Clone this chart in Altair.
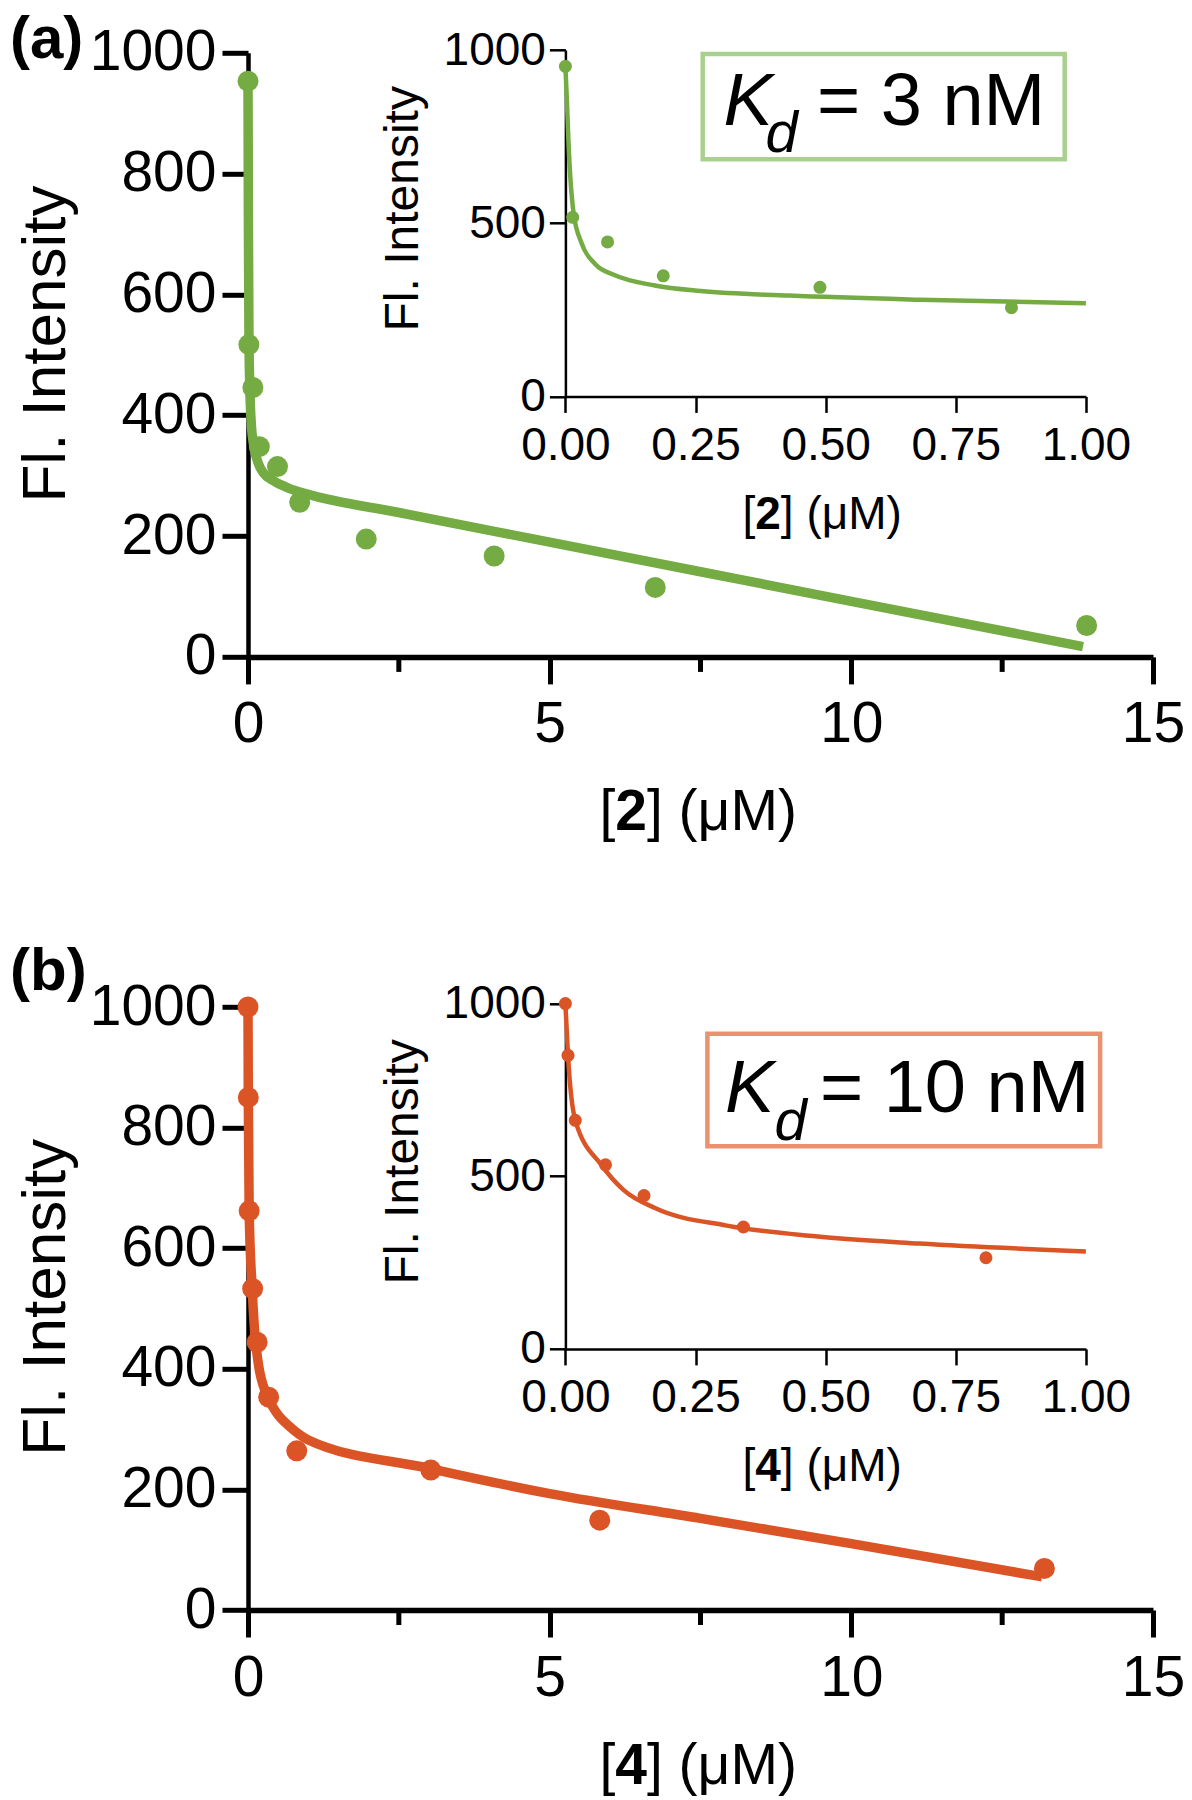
import altair as alt
import pandas as pd

# ---------------- data ----------------
# panel (a): compound 2
a_conc = [0.0, 0.014, 0.081, 0.188, 0.489, 0.857, 1.96, 4.08, 6.75, 13.9]
a_fl = [953, 517, 446, 348, 315, 256, 195, 167, 115, 52]
a_fit_conc = [0.0, 0.003, 0.006, 0.016, 0.031, 0.058, 0.093, 0.172, 0.26, 0.43, 0.68, 1.0,
              2.5, 5.0, 7.5, 10.0, 13.84]
a_fit_fl = [953, 850, 732, 526, 443, 381, 351, 320, 304, 291, 279, 269,
            239, 190, 141, 92, 17]

# panel (b): compound 4
b_conc = [0.0, 0.005, 0.019, 0.077, 0.151, 0.342, 0.808, 3.03, 5.83, 13.2]
b_fl = [1000, 850, 662, 533, 444, 353, 264, 232, 149, 69]
b_fit_conc = [0.0, 0.005, 0.019, 0.069, 0.112, 0.172, 0.31, 0.48, 0.68, 1.0,
              3.0, 5.0, 7.5, 10.0, 13.16]
b_fit_fl = [1000, 850, 662, 533, 460, 408, 357, 326, 305, 282,
            235, 193, 152, 110, 55]

main_x_ticks = [0, 5, 10, 15]
main_x_minor = [2.5, 7.5, 12.5]
main_y_ticks = [0, 200, 400, 600, 800, 1000]
inset_x_ticks = [0, 0.25, 0.5, 0.75, 1.0]
inset_y_ticks = [0, 500, 1000]

y_title = "Fl. Intensity"
panel_labels = ["(a)", "(b)"]
compounds = ["2", "4"]
kd_values = ["= 3 nM", "= 10 nM"]

# ---------------- styling ----------------
FONT = "Liberation Sans"
GREEN = "#74AB43"
GREEN_LIGHT = "#A9D08E"
ORANGE = "#DB5426"
ORANGE_LIGHT = "#EC9170"

W = 910
H = 1557.2


def df(xs, ys):
    return pd.DataFrame({"c": xs, "f": ys})


minor_df = pd.DataFrame({"c": main_x_minor})


def main_panel(pts, fit, color, xr, yr, title_y):
    xs = alt.Scale(domain=[0, 15], range=xr, nice=False, zero=False)
    ys = alt.Scale(domain=[0, 1000], range=yr, nice=False, zero=False)
    ax_x = alt.Axis(orient="bottom", offset=yr[0] - H, values=main_x_ticks, format="d",
                    tickSize=27, tickWidth=5, domainWidth=5.5, labelFontSize=57,
                    labelPadding=13, labelFlush=False, labelOverlap=False, grid=False,
                    title=None, domainColor="black", tickColor="black", labelColor="black",
                    labelFont=FONT)
    ax_y = alt.Axis(orient="left", offset=0, values=main_y_ticks, format="d",
                    tickSize=26, tickWidth=5, domainWidth=4.5, labelFontSize=57,
                    labelPadding=6, labelFlush=False, labelOverlap=False, grid=False,
                    title=y_title, titleFontSize=62, titleFontWeight="normal",
                    titleX=-184, titleY=title_y, titleAngle=270, titleAlign="center",
                    titleBaseline="alphabetic", titleColor="black", titleFont=FONT,
                    domainColor="black", tickColor="black", labelColor="black",
                    labelFont=FONT)
    X = alt.X("c:Q", scale=xs, axis=ax_x)
    Y = alt.Y("f:Q", scale=ys, axis=ax_y)
    line = alt.Chart(fit).mark_line(color=color, strokeWidth=9.5,
                                    interpolate="monotone").encode(x=X, y=Y)
    dots = alt.Chart(pts).mark_circle(color=color, size=440, opacity=1).encode(x=X, y=Y)
    minor = alt.Chart(minor_df).mark_rule(color="black", strokeWidth=5).encode(
        x=X, y=alt.value(yr[0]), y2=alt.value(yr[0] + 15))
    return alt.layer(line, dots, minor)


def inset_panel(pts, fit, color, xr, yr, title_y):
    xs = alt.Scale(domain=[0, 1], range=xr, nice=False, zero=False)
    ys = alt.Scale(domain=[0, 1000], range=yr, nice=False, zero=False)
    ax_x = alt.Axis(orient="bottom", offset=yr[0] - H, values=inset_x_ticks, format=".2f",
                    tickSize=16, tickWidth=2.5, domainWidth=2.5, labelFontSize=46,
                    labelPadding=11, labelFlush=False, labelOverlap=False, grid=False,
                    title=None, domainColor="black", tickColor="black", labelColor="black",
                    labelFont=FONT)
    ax_y = alt.Axis(orient="left", offset=-xr[0], values=inset_y_ticks, format="d",
                    tickSize=16, tickWidth=2.5, domainWidth=2.5, labelFontSize=46,
                    labelPadding=4, labelFlush=False, labelOverlap=False, grid=False,
                    title=y_title, titleFontSize=48, titleFontWeight="normal",
                    titleX=-148, titleY=title_y, titleAngle=270, titleAlign="center",
                    titleBaseline="alphabetic", titleColor="black", titleFont=FONT,
                    domainColor="black", tickColor="black", labelColor="black",
                    labelFont=FONT)
    X = alt.X("c:Q", scale=xs, axis=ax_x)
    Y = alt.Y("f:Q", scale=ys, axis=ax_y)
    line = alt.Chart(fit).transform_filter(alt.datum.c <= 1.0).mark_line(
        color=color, strokeWidth=4.5, interpolate="monotone").encode(x=X, y=Y)
    dots = alt.Chart(pts).transform_filter(alt.datum.c <= 1.0).mark_circle(
        color=color, size=170, opacity=1).encode(x=X, y=Y)
    return alt.layer(line, dots)


def text(t, x, y, size, weight="normal", style="normal"):
    return alt.Chart(pd.DataFrame({"t": [t]})).mark_text(
        font=FONT, fontSize=size, fontWeight=weight, fontStyle=style,
        align="left", baseline="alphabetic", color="black").encode(
        x=alt.value(x), y=alt.value(y), text="t:N")


def box(x1, x2, y1, y2, color):
    return alt.Chart(pd.DataFrame({"t": [""]})).mark_rect(
        fill="white", stroke=color, strokeWidth=4.5).encode(
        x=alt.value(x1), x2=alt.value(x2), y=alt.value(y1), y2=alt.value(y2))


def x_title(compound, x0, base, size):
    w_br = 0.278 * size
    w_num = 0.556 * size
    return [
        text("[", x0, base, size),
        text(compound, x0 + w_br, base, size, weight="bold"),
        text("] (\u03bcM)", x0 + w_br + w_num, base, size),
    ]


layers = []
# ---- panel (a) ----
layers.append(main_panel(df(a_conc, a_fl), df(a_fit_conc, a_fit_fl), GREEN,
                         [0, 905], [604.1, 0], 290.7))
layers.append(box(454.7, 816.7, 1.2, 106.5, GREEN_LIGHT))
layers.append(inset_panel(df(a_conc, a_fl), df(a_fit_conc, a_fit_fl), GREEN,
                          [317.4, 837.9], [343.6, -2.8], 155.5))
layers.append(text(panel_labels[0], -238, 5, 60, weight="bold"))
layers += x_title(compounds[0], 351.4, 777.2, 57)
layers += x_title(compounds[0], 494.5, 475.8, 46)
layers.append(text("K", 475.5, 72.2, 74, style="italic"))
layers.append(text("d", 517.5, 98.9, 58, style="italic"))
layers.append(text(kd_values[0], 568.9, 72.2, 74))

# ---- panel (b) ----
layers.append(main_panel(df(b_conc, b_fl), df(b_fit_conc, b_fit_fl), ORANGE,
                         [0, 905], [1557.2, 954.2], 1243.9))
layers.append(box(459.4, 852.1, 980.9, 1093.5, ORANGE_LIGHT))
layers.append(inset_panel(df(b_conc, b_fl), df(b_fit_conc, b_fit_fl), ORANGE,
                          [317.4, 837.9], [1296.1, 950.8], 1108.6))
layers.append(text(panel_labels[1], -238, 937.2, 60, weight="bold"))
layers += x_title(compounds[1], 351.4, 1731.2, 57)
layers += x_title(compounds[1], 494.5, 1428.2, 46)
layers.append(text("K", 477.1, 1058.9, 74, style="italic"))
layers.append(text("d", 526.4, 1087.2, 58, style="italic"))
layers.append(text(kd_values[1], 571.9, 1058.9, 74))

chart = alt.layer(*layers).resolve_scale(
    x="independent", y="independent"
).resolve_axis(
    x="independent", y="independent"
).properties(
    width=W, height=H,
    padding={"left": 240, "top": 44.8, "right": 26, "bottom": 190},
    autosize=alt.AutoSizeParams(type="none"),
).configure(font=FONT).configure_view(stroke=None)

chart.save("out.html", embed_options={"renderer": "svg", "actions": False})
